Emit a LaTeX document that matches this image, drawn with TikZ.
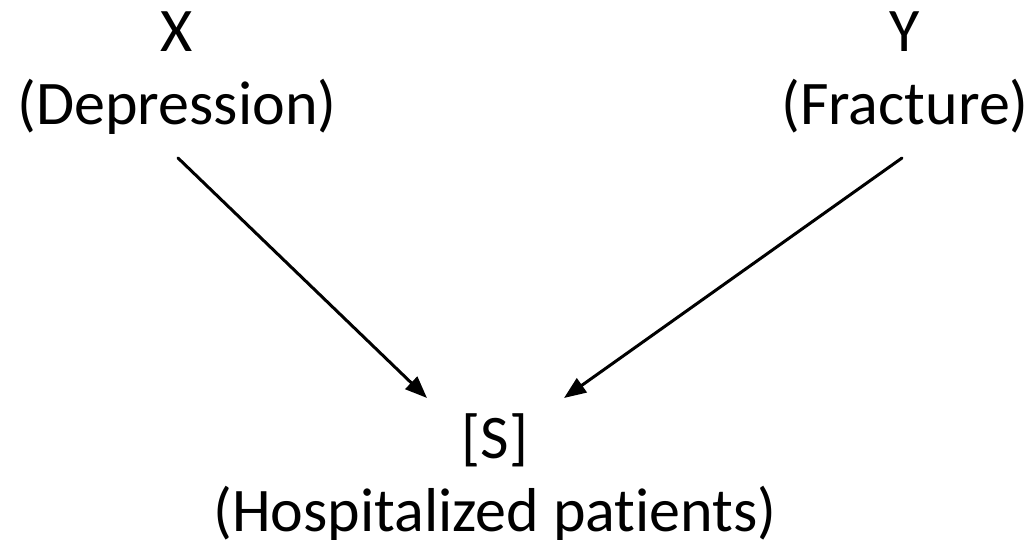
\documentclass[tikz,border=0pt]{standalone}
\usepackage{fontspec}
\setmainfont{Carlito}[Ligatures=NoCommon]
\usetikzlibrary{arrows.meta,calc}
\begin{document}
\begin{tikzpicture}[x=1pt,y=1pt,
  var/.style={align=center, inner sep=0pt, anchor=base,
    font=\fontsize{62}{73}\selectfont},
  link/.style={line width=3pt, line cap=round,
    -{Triangle[length=22pt,width=17pt]}}]
  \useasboundingbox (0,0) rectangle (1033,540);
  % the three variables (anchor = baseline of the last line)
  \node[var] (X) at (177,415) {X\\(Depression)};
  \node[var] (Y) at (905,415) {Y\\(Fracture)};
  \node[var] (S) at (495,8) {[S]\\(Hospitalized patients)};
  % both variables point to the selection node
  \draw[link] ($(X.base)+(1,-33)$) -- ($(S.base)+(-68,134)$);
  \draw[link] ($(Y.base)+(-3,-33)$) -- ($(S.base)+(69,134)$);
\end{tikzpicture}
\end{document}
